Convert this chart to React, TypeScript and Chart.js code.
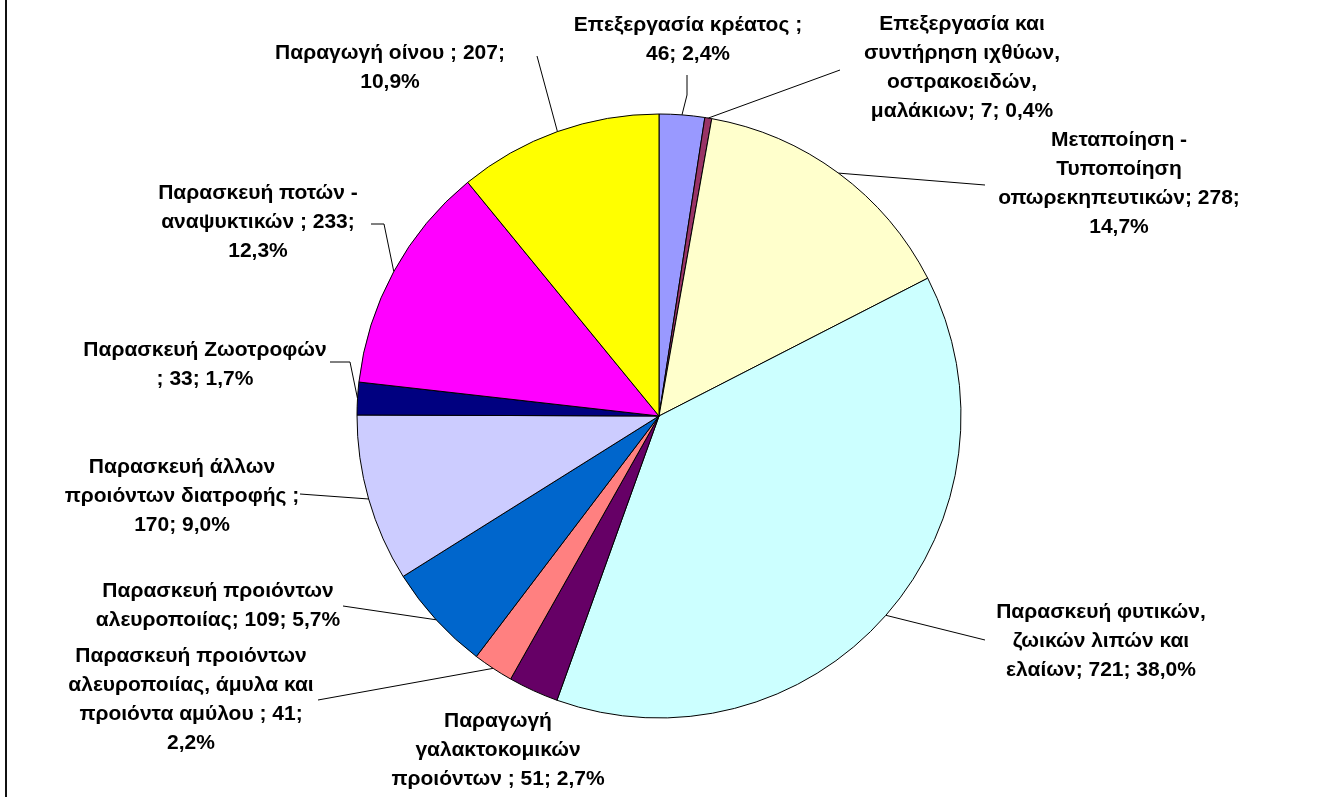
import React, { useEffect, useRef } from "react";
import { Chart, registerables } from "chart.js";

Chart.register(...registerables);

const categories = [
  "Επεξεργασία κρέατος",
  "Επεξεργασία και συντήρηση ιχθύων, οστρακοειδών, μαλάκιων",
  "Μεταποίηση - Τυποποίηση οπωρεκηπευτικών",
  "Παρασκευή φυτικών, ζωικών λιπών και ελαίων",
  "Παραγωγή γαλακτοκομικών προιόντων",
  "Παρασκευή προιόντων αλευροποιίας, άμυλα και προιόντα αμύλου",
  "Παρασκευή προιόντων αλευροποιίας",
  "Παρασκευή άλλων προιόντων διατροφής",
  "Παρασκευή Ζωοτροφών",
  "Παρασκευή ποτών - αναψυκτικών",
  "Παραγωγή οίνου",
];

const values = [46, 7, 278, 721, 51, 41, 109, 170, 33, 233, 207];

const colors = [
  "#9999FF",
  "#993366",
  "#FFFFCC",
  "#CCFFFF",
  "#660066",
  "#FF8080",
  "#0066CC",
  "#CCCCFF",
  "#000080",
  "#FF00FF",
  "#FFFF00",
];

// Label text lines as displayed in the chart
const labelLines = [
  ["Επεξεργασία κρέατος ;", "46; 2,4%"],
  ["Επεξεργασία και", "συντήρηση ιχθύων,", "οστρακοειδών,", "μαλάκιων; 7; 0,4%"],
  ["Μεταποίηση -", "Τυποποίηση", "οπωρεκηπευτικών; 278;", "14,7%"],
  ["Παρασκευή φυτικών,", "ζωικών λιπών και", "ελαίων; 721; 38,0%"],
  ["Παραγωγή", "γαλακτοκομικών", "προιόντων ; 51; 2,7%"],
  ["Παρασκευή προιόντων", "αλευροποιίας, άμυλα και", "προιόντα αμύλου ; 41;", "2,2%"],
  ["Παρασκευή προιόντων", "αλευροποιίας; 109; 5,7%"],
  ["Παρασκευή άλλων", "προιόντων διατροφής ;", "170; 9,0%"],
  ["Παρασκευή Ζωοτροφών", "; 33; 1,7%"],
  ["Παρασκευή ποτών -", "αναψυκτικών ; 233;", "12,3%"],
  ["Παραγωγή οίνου ; 207;", "10,9%"],
];

// Layout: label block centre x and first-line y
const labelAnchors = [
  [688, 25],
  [962, 24],
  [1119, 140],
  [1101, 612],
  [498, 721],
  [191, 656],
  [218, 591],
  [182, 467],
  [205, 350],
  [258, 193],
  [390, 53],
];

// Layout: leader-line points on the label side (line continues to slice edge)
const leaderPoints: number[][][] = [
  [[687, 75], [687, 95]],
  [[840, 70]],
  [[985, 185]],
  [[985, 640]],
  [],
  [[318, 700]],
  [[343, 606]],
  [[300, 494]],
  [[330, 362], [350, 362]],
  [[371, 224], [384, 224]],
  [[537, 56]],
];

const LINE_H = 29;
const FONT = "bold 21px 'Liberation Sans', Arial, sans-serif";

const labelPlugin = {
  id: "pieLabels",
  afterDatasetsDraw(chart: any) {
    const ctx = chart.ctx;
    const meta = chart.getDatasetMeta(0);
    ctx.save();
    // leader lines
    ctx.strokeStyle = "#000";
    ctx.lineWidth = 1;
    meta.data.forEach((arc: any, i: number) => {
      const pts = leaderPoints[i];
      if (!pts || pts.length === 0) return;
      const mid = (arc.startAngle + arc.endAngle) / 2;
      const ex = arc.x + Math.cos(mid) * arc.outerRadius;
      const ey = arc.y + Math.sin(mid) * arc.outerRadius;
      ctx.beginPath();
      ctx.moveTo(pts[0][0], pts[0][1]);
      for (let k = 1; k < pts.length; k++) ctx.lineTo(pts[k][0], pts[k][1]);
      ctx.lineTo(ex, ey);
      ctx.stroke();
    });
    // text
    ctx.fillStyle = "#000";
    ctx.font = FONT;
    ctx.textAlign = "center";
    ctx.textBaseline = "middle";
    labelLines.forEach((lines, i) => {
      const [cx, cy] = labelAnchors[i];
      lines.forEach((t, k) => ctx.fillText(t, cx, cy + k * LINE_H));
    });
    // left frame line
    ctx.fillStyle = "#111";
    ctx.fillRect(5, 0, 2, chart.height);
    ctx.restore();
  },
};

export default function App() {
  const ref = useRef<HTMLCanvasElement | null>(null);
  useEffect(() => {
    if (!ref.current) return;
    const chart = new Chart(ref.current, {
      type: "pie",
      data: {
        labels: categories,
        datasets: [
          {
            data: values,
            backgroundColor: colors,
            borderColor: "#000",
            borderWidth: 1,
            hoverOffset: 0,
            offset: 0,
          },
        ],
      },
      options: {
        responsive: false,
        animation: false,
        devicePixelRatio: 1,
        radius: 302,
        layout: { padding: { left: 357, right: 358, top: 114, bottom: 79 } },
        plugins: {
          legend: { display: false },
          tooltip: { enabled: false },
        },
      } as any,
      plugins: [labelPlugin],
    });
    return () => chart.destroy();
  }, []);
  return (
    <div
      style={{
        position: "fixed",
        left: 0,
        top: 0,
        width: 1319,
        height: 797,
        background: "#fff",
      }}
    >
      <canvas ref={ref} width={1319} height={797} style={{ display: "block" }} />
    </div>
  );
}
